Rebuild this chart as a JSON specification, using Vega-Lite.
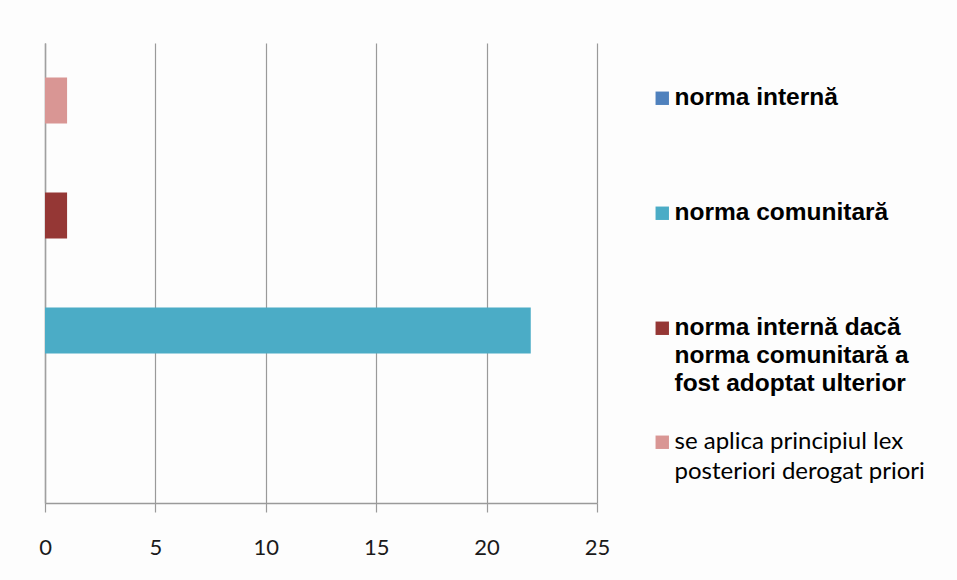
{
  "$schema": "https://vega.github.io/schema/vega-lite/v6.json",
  "width": 552,
  "height": 460,
  "autosize": {"type": "none"},
  "padding": {"left": 45, "top": 43, "right": 360, "bottom": 77},
  "background": "#fdfdfd",
  "config": {
    "view": {"stroke": null},
    "font": "Lato"
  },
  "data": {
    "values": [
      {"raspuns": "norma internă", "n": 0},
      {"raspuns": "norma comunitară", "n": 22},
      {"raspuns": "norma internă dacă norma comunitară a fost adoptat ulterior", "n": 1},
      {"raspuns": "se aplica principiul lex posteriori derogat priori", "n": 1}
    ]
  },
  "mark": {"type": "bar"},
  "encoding": {
    "y": {
      "field": "raspuns",
      "type": "nominal",
      "sort": [
        "se aplica principiul lex posteriori derogat priori",
        "norma internă dacă norma comunitară a fost adoptat ulterior",
        "norma comunitară",
        "norma internă"
      ],
      "scale": {"paddingInner": 0.6, "paddingOuter": 0.3},
      "axis": {
        "title": null,
        "labels": false,
        "ticks": false,
        "grid": false,
        "domain": true,
        "domainColor": "#a0a0a0",
        "domainWidth": 1.5
      }
    },
    "x": {
      "field": "n",
      "type": "quantitative",
      "scale": {"domain": [0, 25], "nice": false},
      "axis": {
        "title": null,
        "values": [0, 5, 10, 15, 20, 25],
        "grid": true,
        "gridColor": "#9a9a9a",
        "gridWidth": 1.2,
        "domainColor": "#9a9a9a",
        "domainWidth": 1.5,
        "tickColor": "#9a9a9a",
        "tickWidth": 1.2,
        "tickSize": 9,
        "labelFont": "Lato",
        "labelFontSize": 22,
        "labelColor": "#1a1a1a",
        "labelPadding": 25,
        "labelFlush": false
      }
    },
    "color": {
      "field": "raspuns",
      "type": "nominal",
      "scale": {
        "domain": [
          "norma internă",
          "norma comunitară",
          "norma internă dacă norma comunitară a fost adoptat ulterior",
          "se aplica principiul lex posteriori derogat priori"
        ],
        "range": ["#4F81BD", "#4BACC6", "#953735", "#D99694"]
      },
      "legend": {
        "title": null,
        "orient": "none",
        "legendX": 605,
        "legendY": 43,
        "symbolType": "square",
        "symbolSize": 180,
        "symbolStrokeWidth": 0,
        "symbolOpacity": 1,
        "labelFontSize": 24.5,
        "labelLimit": 400,
        "labelOffset": 0,
        "labelColor": "#000000",
        "rowPadding": 6,
        "labelExpr": "datum.label == 'norma internă' ? ['norma internă', '', '', ''] : datum.label == 'norma comunitară' ? ['norma comunitară', '', '', ''] : datum.label == 'norma internă dacă norma comunitară a fost adoptat ulterior' ? ['norma internă dacă', 'norma comunitară a', 'fost adoptat ulterior', ''] : ['se aplica principiul lex', 'posteriori derogat priori']",
        "encode": {
          "labels": {
            "update": {
              "font": {"signal": "datum.value == 'se aplica principiul lex posteriori derogat priori' ? 'Lato' : 'Liberation Sans'"},
              "fontWeight": {"signal": "datum.value == 'se aplica principiul lex posteriori derogat priori' ? 'normal' : 'bold'"},
              "fontSize": {"signal": "datum.value == 'se aplica principiul lex posteriori derogat priori' ? 24 : 24.5"},
              "lineHeight": {"signal": "datum.value == 'se aplica principiul lex posteriori derogat priori' ? 30 : 28"}
            }
          }
        }
      }
    }
  }
}
